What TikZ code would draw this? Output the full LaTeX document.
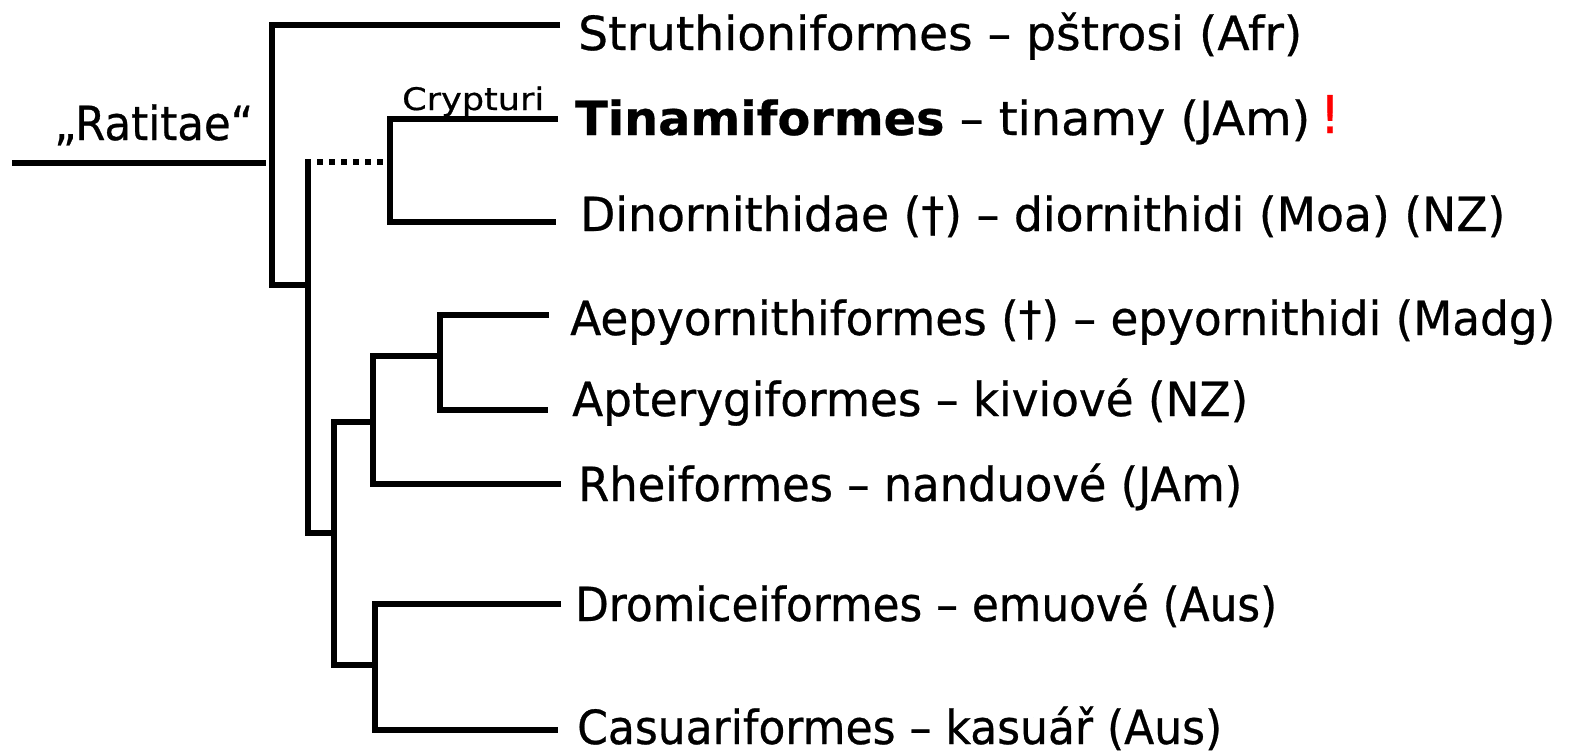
\documentclass[tikz,border=0pt]{standalone}
\usepackage{fontspec}
\setmainfont{DejaVu Sans}[FakeBold=0.6]
\usepackage{graphicx}
\begin{document}
\begin{tikzpicture}[x=1pt,y=-1pt,
  branch/.style={line width=6pt, line join=miter, line cap=butt},
  dotbranch/.style={line width=6pt, dash pattern=on 6pt off 6pt},
  taxon/.style={anchor=base west, inner sep=0pt, font=\fontsize{47}{52}\selectfont},
  small/.style={anchor=base west, inner sep=0pt, font=\fontsize{31}{36}\selectfont}]
\useasboundingbox (0,0) rectangle (1569,755);
% internal nodes
\coordinate (root) at (12,163);
\coordinate (c0) at (266,163);
\coordinate (c1) at (272,163);
\coordinate (c1s) at (308,285);
\coordinate (c2t) at (308,162);
\coordinate (c2d) at (305,162);
\coordinate (c2b) at (308,533);
\coordinate (cC) at (390,162);
\coordinate (c3) at (334,533);
\coordinate (c4) at (373,422);
\coordinate (c5) at (440,356);
\coordinate (c6) at (375,665);
% leaf ends
\coordinate (lS) at (560,25);
\coordinate (lT) at (558,119);
\coordinate (lD) at (556,222);
\coordinate (lAe) at (549,315);
\coordinate (lAp) at (548,410);
\coordinate (lR) at (561,484);
\coordinate (lDr) at (561,604);
\coordinate (lC) at (558,730);
% branches
\draw[branch] (root) -- (c0);
\draw[branch] (lS) -| (c1) |- (c1s);
\draw[dotbranch] (c2d) -- (cC);
\draw[branch] (lT) -| (cC) |- (lD);
\draw[branch] (c2t) -- (c2b) -- (c3);
\draw[branch] (c4) -| (c3) |- (c6);
\draw[branch] (c5) -| (c4) |- (lR);
\draw[branch] (lAe) -| (c5) |- (lAp);
\draw[branch] (lDr) -| (c6) |- (lC);
% labels
\node[taxon] (rat) at (54,140) {\resizebox{199pt}{\height}{„Ratitae“}};
\node[small] (cry) at (402,110) {\resizebox{142pt}{\height}{Crypturi}};
\node[taxon] (tS) at (578,50) {\resizebox{724pt}{\height}{Struthioniformes – pštrosi (Afr)}};
\node[taxon] (tT) at (575,135) {\resizebox{735pt}{\height}{\textbf{Tinamiformes} – tinamy (JAm)}};
\node[anchor=base, inner sep=0pt, text=red, font=\fontsize{52}{56}\selectfont] (ex) at (1330,133) {!};
\node[taxon] (tD) at (580,231) {\resizebox{925pt}{\height}{Dinornithidae (†) – diornithidi (Moa) (NZ)}};
\node[taxon] (tAe) at (570,335) {\resizebox{985pt}{\height}{Aepyornithiformes (†) – epyornithidi (Madg)}};
\node[taxon] (tAp) at (572,416) {\resizebox{676pt}{\height}{Apterygiformes – kiviové (NZ)}};
\node[taxon] (tR) at (578,501) {\resizebox{664pt}{\height}{Rheiformes – nanduové (JAm)}};
\node[taxon] (tDr) at (575,621) {\resizebox{702pt}{\height}{Dromiceiformes – emuové (Aus)}};
\node[taxon] (tC) at (577,744) {\resizebox{645pt}{\height}{Casuariformes – kasuář (Aus)}};
\end{tikzpicture}
\end{document}
